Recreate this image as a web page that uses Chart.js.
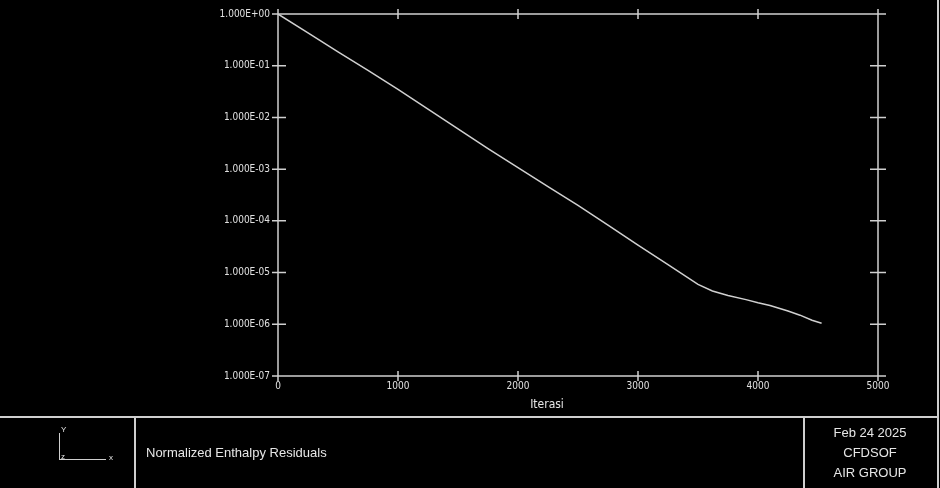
<!DOCTYPE html>
<html>
<head>
<meta charset="utf-8">
<script src="https://cdn.jsdelivr.net/npm/chart.js@4"></script>
<style>
  html, body { margin: 0; padding: 0; background: #000; }
  body { width: 940px; height: 488px; position: relative; overflow: hidden; font-family: "Liberation Sans", Arial, sans-serif; color: #e6e6e6; }
  #wrap { position: absolute; left: 0; top: 0; width: 940px; height: 417px; }
  .ln { position: absolute; background: #cfcfcf; }
  .txt { position: absolute; font-size: 13px; white-space: nowrap; }
  .ctr { transform: translate(-50%, -50%); }
</style>
</head>
<body>
<div id="wrap"><canvas id="residualGrafico"></canvas></div>

<div class="txt ctr" style="left:547px;top:404px;font-size:12px;font-family:'Liberation Sans Narrow','DejaVu Sans Condensed',sans-serif">Iterasi</div>

<!-- bottom panel -->
<div class="ln" style="left:0;top:416px;width:938px;height:2px"></div>
<div class="ln" style="left:937px;top:0;width:2px;height:488px"></div>
<div class="ln" style="left:134px;top:417px;width:2px;height:71px"></div>
<div class="ln" style="left:803px;top:417px;width:2px;height:71px"></div>

<div class="ln" style="left:59px;top:433px;width:1px;height:27px"></div>
<div class="ln" style="left:59px;top:459px;width:47px;height:1px"></div>
<div class="txt" style="left:61px;top:425px;font-size:8px">Y</div>
<div class="txt" style="left:109px;top:453px;font-size:8px">x</div>
<div class="txt" style="left:61px;top:452px;font-size:8px">z</div>

<div class="txt" style="left:146px;top:445px">Normalized Enthalpy Residuals</div>
<div class="txt ctr" style="left:870px;top:432px">Feb 24 2025</div>
<div class="txt ctr" style="left:870px;top:452px">CFDSOF</div>
<div class="txt ctr" style="left:870px;top:472px">AIR GROUP</div>

<script>
// RESIDUALS
const iteracoes = [0, 250, 500, 750, 1000, 1250, 1500, 1750, 2000, 2250, 2500, 2750, 3000, 3250, 3500, 3620, 3750, 3900, 4000, 4100, 4250, 4350, 4450, 4530];
const residuos = [1.0, 0.43, 0.185, 0.081, 0.035, 0.0145, 0.006, 0.0025, 0.00107, 0.00046, 0.0002, 0.000083, 0.000034, 0.0000142, 0.0000059, 0.0000044, 0.0000036, 0.000003, 0.0000026, 0.0000023, 0.0000018, 0.0000015, 0.0000012, 0.00000105];
const ticksY = [1, 1e-1, 1e-2, 1e-3, 1e-4, 1e-5, 1e-6, 1e-7];
const ticksX = [0, 1000, 2000, 3000, 4000, 5000];

const pontos = iteracoes.map((it, i) => ({ x: it, y: residuos[i] }));
const corLinha = '#d0d0d0';
const fonteTick = { family: '"Liberation Sans Narrow", "DejaVu Sans Condensed", sans-serif', size: 10 };

function rotuloE(v) {
    const e = Math.round(Math.log10(v));
    const s = e < 0 ? '-' : '+';
    return '1.000E' + s + String(Math.abs(e)).padStart(2, '0');
}

// frame and ticks on all sides, both directions
const moldura = {
    id: 'moldura',
    afterDatasetsDraw(chart) {
        const ctx = chart.ctx;
        const a = chart.chartArea;
        const sx = chart.scales.x, sy = chart.scales.y;
        ctx.save();
        ctx.strokeStyle = corLinha;
        ctx.lineWidth = 1.5;
        ctx.beginPath();
        ctx.moveTo(a.left, a.top); ctx.lineTo(a.right + 8, a.top);
        ctx.moveTo(a.left, a.top - 2); ctx.lineTo(a.left, a.bottom);
        ctx.moveTo(a.left, a.bottom); ctx.lineTo(a.right, a.bottom);
        ctx.moveTo(a.right, a.top - 3); ctx.lineTo(a.right, a.bottom + 5);
        ticksY.forEach(v => {
            const y = sy.getPixelForValue(v);
            ctx.moveTo(a.left - 6, y); ctx.lineTo(a.left + 8, y);
            ctx.moveTo(a.right - 8, y); ctx.lineTo(a.right + 8, y);
        });
        ticksX.forEach(v => {
            const x = sx.getPixelForValue(v);
            ctx.moveTo(x, a.top - 5); ctx.lineTo(x, a.top + 5);
            ctx.moveTo(x, a.bottom - 5); ctx.lineTo(x, a.bottom + 5);
        });
        ctx.stroke();
        ctx.restore();
    }
};

const residual_config = {
    type: 'line',
    data: {
        datasets: [{
            label: 'Enthalpy',
            data: pontos,
            borderColor: corLinha,
            borderWidth: 1.5,
            pointRadius: 0,
            tension: 0,
            fill: false
        }]
    },
    options: {
        responsive: true,
        maintainAspectRatio: false,
        animation: false,
        layout: { padding: { top: 13, right: 62, left: 0, bottom: 0 } },
        scales: {
            x: {
                type: 'linear',
                min: 0,
                max: 5000,
                afterBuildTicks: s => { s.ticks = ticksX.map(v => ({ value: v })); },
                afterFit: s => { s.height = 41; },
                grid: { display: false, drawTicks: false },
                border: { display: false },
                ticks: { color: '#e0e0e0', font: fonteTick, padding: 4, maxRotation: 0, callback: v => String(v) }
            },
            y: {
                type: 'logarithmic',
                min: 1e-7,
                max: 1,
                afterBuildTicks: s => { s.ticks = ticksY.map(v => ({ value: v })); },
                afterFit: s => { s.width = 278; },
                grid: { display: false, drawTicks: false },
                border: { display: false },
                ticks: {
                    color: '#e0e0e0',
                    font: fonteTick,
                    padding: 8,
                    callback: v => rotuloE(v)
                }
            }
        },
        plugins: {
            legend: { display: false },
            tooltip: { enabled: false }
        }
    },
    plugins: [moldura]
};

const grafico_residual = new Chart(document.getElementById('residualGrafico'), residual_config);
</script>
</body>
</html>
